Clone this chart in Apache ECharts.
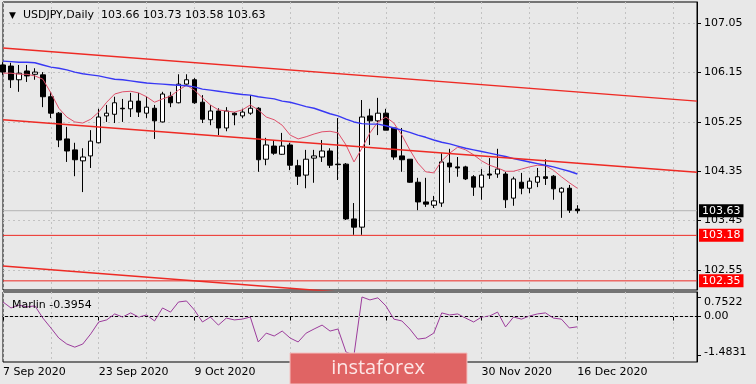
<!DOCTYPE html>
<html><head><meta charset="utf-8">
<script src="https://cdn.jsdelivr.net/npm/echarts@6/dist/echarts.min.js"></script>
<style>html,body{margin:0;padding:0;background:#e8e8e8}#c{width:756px;height:384px}</style>
</head><body><div id="c"></div>
<script>
// ---- data (USDJPY daily, 7 Sep 2020 .. 16 Dec 2020) ----
const TOTAL_SLOTS = 88; // bars incl. empty future space on the right
const opens = [106.29,106.27,106.02,106.18,106.12,106.11,105.71,105.41,104.94,104.74,
104.54,104.63,104.87,105.36,105.39,105.50,105.49,105.63,105.41,105.50,
105.25,105.72,105.60,105.94,106.02,105.61,105.29,105.45,105.14,105.41,
105.36,105.41,105.50,104.57,104.81,104.66,104.83,104.45,104.28,104.59,
104.61,104.72,104.48,104.48,103.48,103.33,105.36,105.27,105.41,105.14,
104.63,104.57,104.15,103.79,103.73,103.77,104.50,104.43,104.43,104.25,
104.06,104.30,104.30,104.30,103.86,104.15,104.04,104.15,104.25,104.26,
103.97,104.04,103.66];
const closes = [106.16,106.02,106.14,106.09,106.16,105.71,105.41,104.92,104.72,104.56,
104.61,104.90,105.34,105.41,105.60,105.49,105.63,105.43,105.52,105.27,
105.76,105.60,105.94,106.02,105.60,105.30,105.45,105.14,105.45,105.38,
105.43,105.50,104.56,104.83,104.68,104.81,104.46,104.26,104.57,104.63,
104.72,104.46,104.47,103.48,103.33,105.34,105.27,105.41,105.10,104.61,
104.56,104.15,103.79,103.75,103.81,104.52,104.43,104.41,104.21,104.06,
104.28,104.28,104.39,103.83,104.21,104.04,104.17,104.25,104.22,104.03,
104.04,103.64,103.63];
const lows = [106.11,105.87,105.80,105.98,106.02,105.52,105.32,104.79,104.52,104.26,
103.97,104.41,104.86,105.25,105.23,105.25,105.34,105.34,105.32,104.94,
105.24,105.52,105.59,105.92,105.58,105.23,105.19,105.01,105.08,105.19,
105.32,105.38,104.34,104.46,104.65,104.65,104.37,104.10,104.04,104.14,
104.52,104.41,104.19,103.46,103.19,103.19,104.83,105.01,105.10,104.56,
104.34,104.14,103.64,103.70,103.68,103.70,104.14,104.25,104.19,103.90,
103.83,104.21,104.23,103.68,103.72,103.93,103.95,104.06,104.10,103.83,
103.50,103.59,103.58];
const highs = [106.34,106.33,106.29,106.29,106.23,106.16,105.80,105.43,105.16,104.87,
104.77,105.10,105.49,105.56,105.71,105.67,105.78,105.78,105.71,105.56,
105.80,105.80,106.12,106.12,106.05,105.74,105.56,105.50,105.52,105.43,
105.49,105.74,105.52,104.96,104.92,105.05,104.87,104.56,104.74,104.74,
104.92,104.77,105.32,104.50,103.77,105.65,105.49,105.69,105.49,105.14,
105.14,104.57,104.23,104.23,103.90,104.68,104.76,104.61,104.45,104.28,
104.39,104.59,104.76,104.34,104.25,104.32,104.23,104.41,104.57,104.28,
104.06,104.10,103.73];
const fastMA = [106.14,106.14,106.12,106.12,106.09,106.03,105.78,105.50,105.34,105.25,
105.23,105.30,105.43,105.61,105.76,105.80,105.81,105.78,105.71,105.61,
105.67,105.72,105.83,105.92,105.83,105.69,105.56,105.47,105.45,105.43,
105.47,105.56,105.47,105.34,105.29,105.19,105.01,104.94,104.98,105.03,
105.07,105.08,105.05,104.83,104.52,104.77,105.05,105.25,105.34,105.23,
105.01,104.74,104.50,104.34,104.32,104.54,104.68,104.79,104.74,104.65,
104.54,104.46,104.41,104.35,104.35,104.39,104.43,104.46,104.45,104.37,
104.25,104.14,104.04];
const slowMA = [106.36,106.35,106.34,106.34,106.33,106.29,106.25,106.23,106.20,106.16,
106.13,106.11,106.09,106.06,106.03,106.02,106.00,105.98,105.96,105.95,
105.94,105.93,105.92,105.91,105.89,105.85,105.83,105.81,105.79,105.77,
105.75,105.74,105.71,105.69,105.67,105.63,105.61,105.57,105.53,105.50,
105.45,105.40,105.36,105.30,105.25,105.22,105.21,105.21,105.18,105.14,
105.10,105.06,105.01,104.97,104.92,104.88,104.85,104.81,104.77,104.74,
104.71,104.68,104.65,104.62,104.58,104.55,104.52,104.49,104.46,104.43,
104.39,104.35,104.30];
const marlin = [0.56,0.33,0.44,0.37,0.41,-0.06,-0.44,-0.83,-1.06,-1.18,
-1.06,-0.67,-0.21,-0.13,0.10,-0.02,0.14,-0.02,0.06,-0.17,
0.33,0.17,0.56,0.60,0.25,-0.21,-0.02,-0.33,-0.06,-0.13,
-0.10,-0.02,-0.98,-0.64,-0.75,-0.56,-0.83,-0.98,-0.64,-0.48,
-0.33,-0.56,-0.48,-1.37,-1.4831,0.7522,0.64,0.72,0.41,-0.10,
-0.17,-0.48,-0.87,-0.83,-0.64,0.14,0.06,0.10,-0.06,-0.21,
-0.02,0.02,0.17,-0.40,-0.02,-0.10,0.02,0.10,0.14,-0.06,
-0.10,-0.44,-0.3954];
// trend lines: price at first slot and at last slot
const upperChannel = [106.60, 105.63];
const middleChannel = [105.29, 104.33];
const lowerChannel = [102.62, 101.64];
const levels = [103.18, 102.35];
const lastPrice = 103.63;
const priceTicks = [102.55, 103.45, 104.35, 105.25, 106.15, 107.05];
const marlinTicks = [-1.4831, 0, 0.7522];
const titleText = 'USDJPY,Daily  103.66 103.73 103.58 103.63';
const marlinTitle = 'Marlin -0.3954';

// category dates (trading days)
const months=['Jan','Feb','Mar','Apr','May','Jun','Jul','Aug','Sep','Oct','Nov','Dec'];
const dates=[]; let d=new Date(Date.UTC(2020,8,7));
while(dates.length<TOTAL_SLOTS){const wd=d.getUTCDay(); if(wd!==0&&wd!==6) dates.push(d.getUTCDate()+' '+months[d.getUTCMonth()]+' '+d.getUTCFullYear()); d=new Date(d.getTime()+86400000);}

const FONT='DejaVu Sans';
const last = TOTAL_SLOTS-1;
const red='#ee2a24';
const gridLine={show:true,lineStyle:{color:'#c2c2c2',type:[2,3],width:1}};
const chart=echarts.init(document.getElementById('c'),null,{renderer:'canvas'});
const trend=(arr)=>({type:'line',xAxisIndex:0,yAxisIndex:0,data:[[0,arr[0]],[last,arr[1]]],showSymbol:false,silent:true,z:4,lineStyle:{color:red,width:1.5},clip:true});
const hline=(v,color,bg,z)=>({type:'line',xAxisIndex:0,yAxisIndex:0,data:[[0,v],[last,v]],showSymbol:false,silent:true,z:z,
  lineStyle:{color:color,width:1},
  endLabel:{show:true,distance:2,backgroundColor:bg,color:'#fff',fontFamily:FONT,fontSize:11,padding:[1,3,1,3],formatter:v.toFixed(2)}});
chart.setOption({
  animation:false,
  backgroundColor:'#e8e8e8',
  textStyle:{fontFamily:FONT},
  title:[
    {text:'{t|▼}  '+titleText,left:4,top:5,textStyle:{fontFamily:FONT,fontSize:11,fontWeight:'normal',color:'#000',rich:{t:{fontSize:9,color:'#000'}}}},
    {text:marlinTitle,left:7,top:295,textStyle:{fontFamily:FONT,fontSize:11,fontWeight:'normal',color:'#000'}}
  ],
  grid:[
    {left:3,right:59,top:2,height:288,show:true,borderColor:'#000',borderWidth:1,backgroundColor:'transparent'},
    {left:3,right:59,top:292,height:70,show:true,borderColor:'#000',borderWidth:1,backgroundColor:'transparent'}
  ],
  xAxis:[
    {type:'category',gridIndex:0,data:dates,boundaryGap:false,axisLine:{show:false},axisTick:{show:false},axisLabel:{show:false},
     splitLine:Object.assign({interval:(i)=>i%6===0},gridLine)},
    {type:'category',gridIndex:1,data:dates,boundaryGap:false,axisLine:{show:true,lineStyle:{color:'#000'}},
     axisTick:{show:true,interval:(i)=>i%12===0,length:4,lineStyle:{color:'#000'}},
     axisLabel:{show:true,interval:(i)=>i%12===0&&i<=72,align:'left',margin:5,color:'#000',fontFamily:FONT,fontSize:11},
     splitLine:Object.assign({interval:(i)=>i%6===0},gridLine)}
  ],
  yAxis:[
    {type:'value',gridIndex:0,position:'right',min:102.183,max:107.439,
     axisLine:{show:true,lineStyle:{color:'#000'}},
     axisTick:{show:true,customValues:priceTicks,length:4,lineStyle:{color:'#000'}},
     axisLabel:{show:true,customValues:priceTicks,formatter:(v)=>v.toFixed(2),margin:7,color:'#000',fontFamily:FONT,fontSize:11},
     splitLine:gridLine},
    {type:'value',gridIndex:1,position:'right',min:-1.752,max:0.945,
     axisLine:{show:true,lineStyle:{color:'#000'}},
     axisTick:{show:true,customValues:marlinTicks,length:4,lineStyle:{color:'#000'}},
     axisLabel:{show:true,customValues:marlinTicks,margin:7,color:'#000',fontFamily:FONT,fontSize:11,
       formatter:(v)=>v===0?'0.00':(v>0?'{a|'+v.toFixed(4)+'}':'{b|'+v.toFixed(4)+'}'),
       rich:{a:{padding:[10,0,0,0],fontFamily:FONT,fontSize:11,color:'#000'},b:{padding:[0,0,6,0],fontFamily:FONT,fontSize:11,color:'#000'}}},
     splitLine:{show:false}}
  ],
  series:[
    hline(lastPrice,'#b4b4b4','#000',1),
    {type:'candlestick',xAxisIndex:0,yAxisIndex:0,barWidth:5,z:2,
     data:opens.map((o,i)=>[o,closes[i],lows[i],highs[i]]),
     itemStyle:{color:'#fff',color0:'#000',borderColor:'#000',borderColor0:'#000',borderWidth:1}},
    {type:'line',xAxisIndex:0,yAxisIndex:0,data:fastMA,showSymbol:false,z:3,lineStyle:{color:'#e0506a',width:1}},
    {type:'line',xAxisIndex:0,yAxisIndex:0,data:slowMA,showSymbol:false,z:3,lineStyle:{color:'#3838f4',width:1.4}},
    trend(upperChannel),trend(middleChannel),trend(lowerChannel),
    hline(levels[0],red,'#ff0000',5),
    hline(levels[1],red,'#ff0000',5),
    {type:'line',xAxisIndex:1,yAxisIndex:1,data:marlin,showSymbol:false,z:3,lineStyle:{color:'#9c3c9c',width:1},
     markLine:{symbol:'none',silent:true,label:{show:false},lineStyle:{color:'#c2c2c2',type:[2,3],width:1},data:[{yAxis:0}]}}
  ],
  graphic:[
    {type:'rect',z:100,shape:{x:290,y:353,width:177,height:31},style:{fill:'#e06464',stroke:'#f4c0c0',lineWidth:1}},
    {type:'text',z:101,x:378,y:368,style:{text:'instaforex',fill:'#fde6e6',font:'20px "Open Sans"',textAlign:'center',textVerticalAlign:'middle'}}
  ]
});
</script></body></html>
